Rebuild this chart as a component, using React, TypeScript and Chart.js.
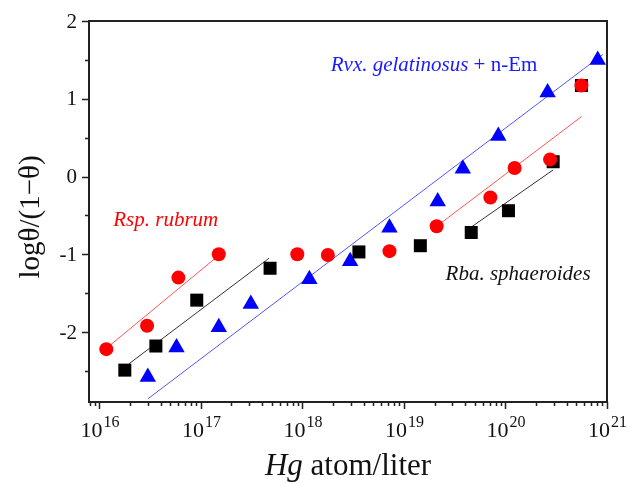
import { useEffect, useRef } from 'react';
import { Chart, registerables } from 'chart.js';

Chart.register(...registerables);

// Rsp. rubrum (red circles)
const rubrumX = [1.17e16, 2.95e16, 6.0e16, 1.5e17, 8.9e17, 1.78e18, 7.2e18, 2.1e19, 7.1e19, 1.23e20, 2.75e20, 5.6e20];
const rubrumY = [-2.22, -1.92, -1.30, -1.0, -1.0, -1.01, -0.96, -0.64, -0.27, 0.11, 0.22, 1.17];
// Rba. sphaeroides (black squares)
const sphaerX = [1.78e16, 3.6e16, 9.1e16, 4.8e17, 3.6e18, 1.45e19, 4.6e19, 1.07e20, 2.95e20, 5.6e20];
const sphaerY = [-2.49, -2.18, -1.59, -1.18, -0.97, -0.89, -0.72, -0.44, 0.19, 1.17];
// Rvx. gelatinosus + n-Em (blue triangles)
const gelatX = [3.0e16, 5.75e16, 1.5e17, 3.1e17, 1.17e18, 2.95e18, 7.2e18, 2.15e19, 3.8e19, 8.5e19, 2.6e20, 8.1e20];
const gelatY = [-2.58, -2.20, -1.94, -1.64, -1.32, -1.09, -0.66, -0.32, 0.10, 0.52, 1.08, 1.50];

// fit lines (endpoints)
const rubrumFit1X = [1.17e16, 1.45e17];
const rubrumFit1Y = [-2.21, -1.03];
const rubrumFit2X = [2.1e19, 5.6e20];
const rubrumFit2Y = [-0.64, 0.77];
const sphaerFit1X = [1.95e16, 4.7e17];
const sphaerFit1Y = [-2.41, -1.05];
const sphaerFit2X = [4.6e19, 2.95e20];
const sphaerFit2Y = [-0.65, 0.085];
const gelatFitX = [3.0e16, 9.1e20];
const gelatFitY = [-2.86, 1.57];

const yTickLabels = ['-2', '-1', '0', '1', '2'];
const yTickValues = [-2, -1, 0, 1, 2];
const xTickExponents = ['16', '17', '18', '19', '20', '21'];

const X_MIN = 7.9e15;
const X_MAX = 1e21;
const Y_MIN = -2.9;
const Y_MAX = 2;

const pts = (xs: number[], ys: number[]) => xs.map((x, i) => ({ x, y: ys[i] }));

const SERIF = '"Liberation Serif", "Times New Roman", serif';

function drawRich(ctx: CanvasRenderingContext2D, parts: { t: string; font: string; color: string }[], x: number, y: number, align: 'left' | 'center') {
  let total = 0;
  for (const p of parts) { ctx.font = p.font; total += ctx.measureText(p.t).width; }
  let cx = align === 'center' ? x - total / 2 : x;
  ctx.textAlign = 'left';
  for (const p of parts) {
    ctx.font = p.font;
    ctx.fillStyle = p.color;
    ctx.fillText(p.t, cx, y);
    cx += ctx.measureText(p.t).width;
  }
}

const axesPlugin = {
  id: 'customAxes',
  afterDraw(chart: any) {
    const { ctx, chartArea: a, scales } = chart;
    const xs = scales.x;
    const ys = scales.y;
    ctx.save();
    // ticks
    ctx.strokeStyle = '#222';
    ctx.lineWidth = 1.5;
    ctx.beginPath();
    for (let v = -2.5; v <= Y_MAX + 1e-9; v += 0.5) {
      if (v < Y_MIN) continue;
      const py = Math.round(ys.getPixelForValue(v)) + 0.5;
      const major = Math.abs(v - Math.round(v)) < 1e-9;
      ctx.moveTo(a.left, py);
      ctx.lineTo(a.left - (major ? 7 : 4), py);
    }
    for (let e = 15; e <= 21; e++) {
      for (let k = 1; k <= 9; k++) {
        const v = k * Math.pow(10, e);
        if (v < X_MIN * 1.001 || v > X_MAX * 1.001) continue;
        const px = Math.round(xs.getPixelForValue(v)) + 0.5;
        ctx.moveTo(px, a.bottom);
        ctx.lineTo(px, a.bottom + (k === 1 ? 7 : 4));
      }
    }
    ctx.stroke();
    // frame
    ctx.lineWidth = 2;
    ctx.strokeStyle = '#222';
    ctx.strokeRect(a.left, a.top, a.right - a.left, a.bottom - a.top);

    // y tick labels
    ctx.fillStyle = '#111';
    ctx.font = `21px ${SERIF}`;
    ctx.textAlign = 'right';
    ctx.textBaseline = 'middle';
    yTickValues.forEach((v, i) => {
      ctx.fillText(yTickLabels[i], a.left - 12, ys.getPixelForValue(v) + 1);
    });
    // x tick labels 10^n
    ctx.textBaseline = 'alphabetic';
    xTickExponents.forEach((ex) => {
      const px = xs.getPixelForValue(Math.pow(10, Number(ex)));
      ctx.font = `22px ${SERIF}`;
      const w1 = ctx.measureText('10').width;
      ctx.font = `16px ${SERIF}`;
      const w2 = ctx.measureText(ex).width;
      const left = px - (w1 + w2) / 2;
      ctx.font = `22px ${SERIF}`;
      ctx.textAlign = 'left';
      ctx.fillText('10', left, a.bottom + 35);
      ctx.font = `16px ${SERIF}`;
      ctx.fillText(ex, left + w1 + 1, a.bottom + 25);
    });

    // axis titles
    drawRich(ctx, [
      { t: 'Hg', font: `italic 31px ${SERIF}`, color: '#111' },
      { t: ' atom/liter', font: `31px ${SERIF}`, color: '#111' },
    ], (a.left + a.right) / 2, 475, 'center');

    ctx.save();
    ctx.translate(31, 217);
    ctx.rotate(-Math.PI / 2);
    ctx.textBaseline = 'middle';
    drawRich(ctx, [{ t: 'logθ/(1−θ)', font: `29px ${SERIF}`, color: '#111' }], 0, 0, 'center');
    ctx.restore();

    // annotations
    ctx.textBaseline = 'alphabetic';
    drawRich(ctx, [{ t: 'Rsp. rubrum', font: `italic 21px ${SERIF}`, color: '#ff0000' }],
      xs.getPixelForValue(1.37e16), ys.getPixelForValue(-0.64), 'left');
    drawRich(ctx, [
      { t: 'Rvx. gelatinosus', font: `italic 21px ${SERIF}`, color: '#1a1aff' },
      { t: ' + n-Em', font: `21px ${SERIF}`, color: '#1a1aff' },
    ], xs.getPixelForValue(1.9e18), ys.getPixelForValue(1.36), 'left');
    drawRich(ctx, [{ t: 'Rba. sphaeroides', font: `italic 21px ${SERIF}`, color: '#111' }],
      xs.getPixelForValue(2.57e19), ys.getPixelForValue(-1.33), 'left');
    ctx.restore();
  },
};

export default function App() {
  const ref = useRef<HTMLCanvasElement | null>(null);
  useEffect(() => {
    if (!ref.current) return;
    const lineDs = (xs: number[], ys: number[], color: string) => ({
      type: 'line' as const,
      data: pts(xs, ys),
      borderColor: color,
      borderWidth: 1,
      pointRadius: 0,
      showLine: true,
      fill: false,
    });
    const chart = new Chart(ref.current, {
      type: 'scatter',
      data: {
        datasets: [
          { data: pts(rubrumX, rubrumY), pointStyle: 'circle', pointRadius: 7, backgroundColor: '#ff0000', borderColor: '#ff0000', borderWidth: 0 },
          { data: pts(sphaerX, sphaerY), pointStyle: 'rect', pointRadius: 9.2, backgroundColor: '#000', borderColor: '#000', borderWidth: 0 },
          { data: pts(gelatX, gelatY), pointStyle: 'triangle', pointRadius: 9.5, backgroundColor: '#0000ff', borderColor: '#0000ff', borderWidth: 0 },
          lineDs(rubrumFit1X, rubrumFit1Y, '#ff5555'),
          lineDs(rubrumFit2X, rubrumFit2Y, '#ff5555'),
          lineDs(sphaerFit1X, sphaerFit1Y, '#333333'),
          lineDs(sphaerFit2X, sphaerFit2Y, '#333333'),
          lineDs(gelatFitX, gelatFitY, '#5555ff'),
        ] as any,
      },
      options: {
        animation: false,
        responsive: false,
        maintainAspectRatio: false,
        events: [],
        layout: { padding: { left: 89, top: 21, right: 30, bottom: 81 } },
        plugins: { legend: { display: false }, tooltip: { enabled: false } },
        scales: {
          x: { type: 'logarithmic', min: X_MIN, max: X_MAX, display: false },
          y: { type: 'linear', min: Y_MIN, max: Y_MAX, display: false },
        },
      },
      plugins: [axesPlugin],
    });
    return () => chart.destroy();
  }, []);
  return (
    <div style={{ position: 'fixed', left: 0, top: 0, width: 637, height: 483, background: '#fff' }}>
      <canvas ref={ref} width={637} height={483} style={{ display: 'block', width: 637, height: 483 }} />
    </div>
  );
}
